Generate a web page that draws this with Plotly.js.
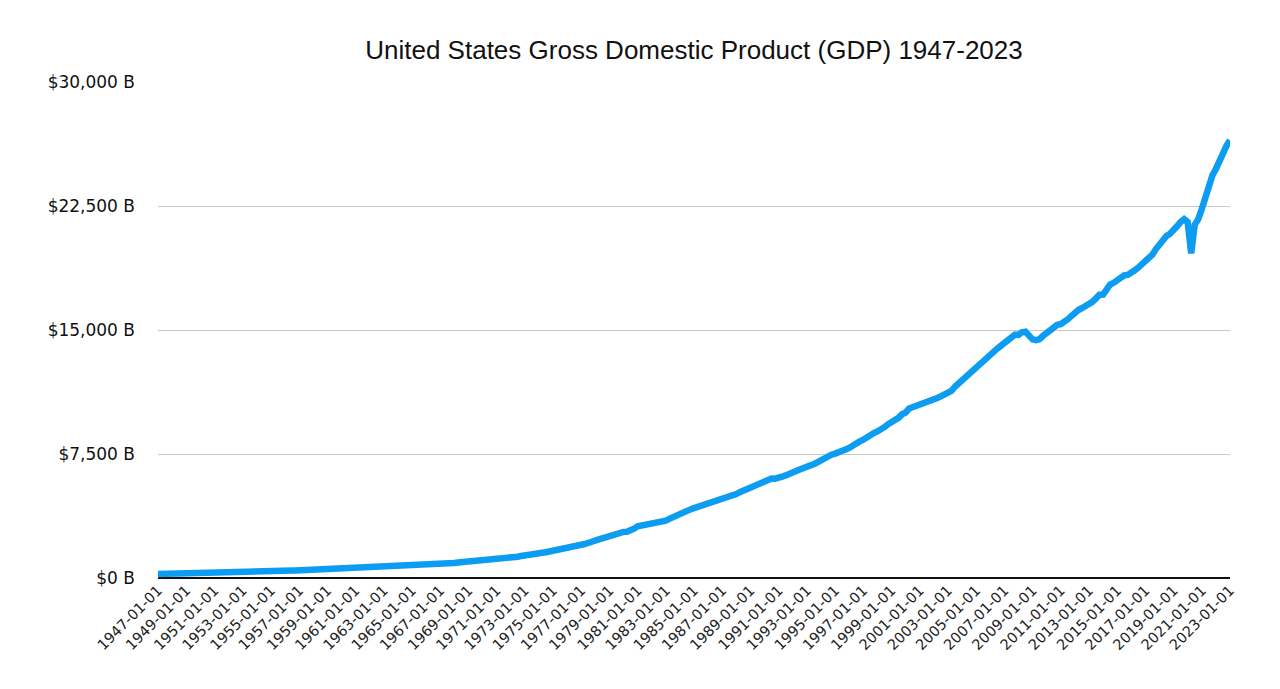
<!DOCTYPE html>
<html>
<head>
<meta charset="utf-8">
<script src="https://cdn.plot.ly/plotly-3.0.1.min.js"></script>
<style>
  html, body { margin: 0; padding: 0; background: #fff; }
  #chart { width: 1280px; height: 689px; }
</style>
</head>
<body>
<div id="chart"></div>
<script>
// quarterly nominal GDP, billions of dollars, 1947 Q1 .. 2023 Q1
const startYear = 1947;
const gdp = [
  243, 246, 250, 260,   266, 273, 279, 280,   275, 271, 273, 271,   281, 290, 308, 320,
  336, 344, 351, 356,   360, 361, 368, 381,   388, 392, 391, 386,   385, 386, 391, 400,
  413, 422, 430, 437,   440, 446, 451, 460,   470, 472, 479, 475,   468, 472, 486, 500,
  510, 523, 525, 529,   543, 541, 546, 540,   545, 556, 568, 581,   594, 600, 609, 612,
  622, 630, 644, 654,   670, 679, 692, 697,   718, 730, 749, 772,   796, 805, 820, 833,
  844, 849, 865, 881,   909, 934, 951, 968,   993, 1009, 1030, 1038,
  1051, 1067, 1086, 1089,   1135, 1156, 1178, 1190,   1231, 1266, 1291, 1329,
  1377, 1414, 1434, 1476,   1491, 1530, 1560, 1600,   1616, 1652, 1710, 1762,
  1820, 1852, 1887, 1934,   1989, 2056, 2118, 2164,   2203, 2332, 2395, 2477,
  2527, 2591, 2668, 2724,   2790, 2797, 2856, 2986,   3124, 3163, 3261, 3281,
  3274, 3332, 3366, 3403,   3473, 3579, 3689, 3795,   3908, 4010, 4084, 4149,
  4230, 4295, 4387, 4444,   4508, 4545, 4608, 4658,   4722, 4806, 4885, 5008,
  5073, 5190, 5283, 5400,   5511, 5612, 5695, 5747,   5873, 5960, 6015, 6005,
  6035, 6127, 6206, 6265,   6363, 6471, 6567, 6681,   6729, 6809, 6882, 7014,
  7116, 7247, 7331, 7455,   7522, 7581, 7683, 7773,   7868, 8033, 8131, 8260,
  8363, 8519, 8663, 8766,   8866, 8970, 9121, 9294,   9412, 9526, 9687, 9900,
  10002, 10248, 10318, 10436,   10470, 10599, 10598, 10660,   10784, 10887, 10984, 11061,
  11174, 11313, 11567, 11772,   11923, 12113, 12305, 12527,   12767, 12923, 13143, 13324,
  13599, 13753, 13870, 14040,   14216, 14402, 14564, 14715,   14707, 14866, 14899, 14608,
  14431, 14381, 14449, 14651,   14765, 14980, 15142, 15309,   15351, 15558, 15648, 15842,
  16069, 16207, 16320, 16420,   16629, 16700, 16911, 17133,   17144, 17463, 17743, 17853,
  17991, 18194, 18307, 18332,   18425, 18612, 18775, 18968,   19148, 19305, 19562, 19895,
  20155, 20470, 20687, 20819,   21013, 21272, 21532, 21707,   21538, 19640, 21362, 21705,
  22314, 23047, 23550, 24349,   24740, 25248, 25724, 26138,   26470
];
const quarterMonths = ['01', '04', '07', '10'];
const dates = gdp.map((_, i) => (startYear + Math.floor(i / 4)) + '-' + quarterMonths[i % 4] + '-01');

const titleFont = '"Liberation Sans", Arial, sans-serif';
const tickFont = '"DejaVu Sans", Verdana, sans-serif';

const data = [{
  x: dates,
  y: gdp,
  type: 'scatter',
  mode: 'lines',
  line: {color: '#0C9CF2', width: 6.5},
  hoverinfo: 'x+y'
}];

const layout = {
  width: 1280,
  height: 689,
  paper_bgcolor: '#fff',
  plot_bgcolor: '#fff',
  showlegend: false,
  margin: {l: 158, r: 50, t: 82, b: 111},
  title: {
    text: 'United States Gross Domestic Product (GDP) 1947-2023',
    font: {family: titleFont, size: 26, color: '#111'},
    x: 0.5, xref: 'paper', xanchor: 'center',
    y: 1 - 50 / 689, yref: 'container', yanchor: 'middle'
  },
  xaxis: {
    type: 'date',
    range: ['1947-01-01', '2023-01-01'],
    tick0: '1947-01-01',
    dtick: 'M24',
    tickformat: '%Y-%m-%d',
    tickangle: -45,
    tickfont: {family: tickFont, size: 14.5, color: '#222'},
    showgrid: false,
    showline: false,
    zeroline: false,
    ticks: ''
  },
  yaxis: {
    range: [0, 30000],
    tick0: 0,
    dtick: 7500,
    tickformat: ',d',
    tickprefix: '$',
    ticksuffix: ' B',
    tickfont: {family: tickFont, size: 17, color: '#111'},
    ticklabelstandoff: 22,
    showgrid: true,
    gridcolor: '#C8C8C8',
    gridwidth: 1,
    zeroline: true,
    zerolinecolor: '#111',
    zerolinewidth: 2,
    showline: false,
    ticks: ''
  }
};

Plotly.newPlot('chart', data, layout, {displayModeBar: false, staticPlot: true});
</script>
</body>
</html>
